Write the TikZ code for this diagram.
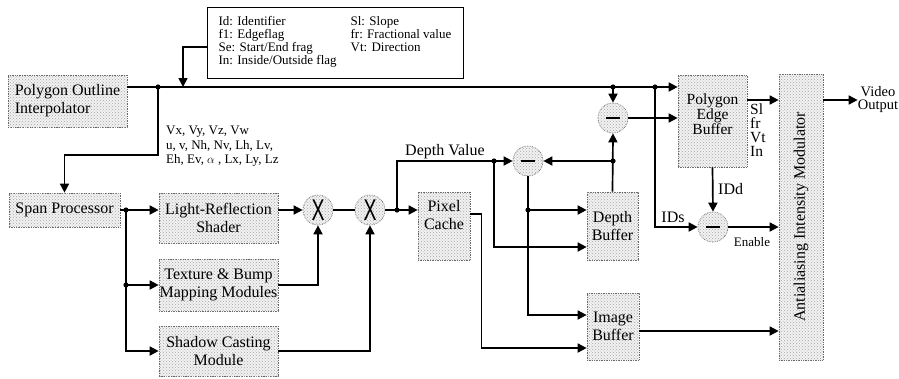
\documentclass[tikz,border=0pt]{standalone}
\usepackage{fontspec}
\setmainfont{Liberation Serif}
\newfontfamily\opfont{Liberation Sans}
\usepackage{graphicx}
\usepackage{tikz}
\usetikzlibrary{arrows.meta,positioning,calc,patterns}
\newcommand\blkfont{\fontsize{16}{18}\selectfont}
\newcommand\pebfont{\fontsize{15.5}{14}\selectfont}
\newcommand\lblfont{\fontsize{13}{14.5}\selectfont}
\newcommand\legfont{\fontsize{13}{13}\selectfont}
\newcommand\mulmark{{\opfont\fontsize{30}{30}\selectfont\scalebox{0.65}[1]{X}}}
\newcommand\submark{\rule{14pt}{2pt}}
\tikzset{
  blk/.style={rectangle, draw=black!60, densely dotted, line width=0.7pt, fill=black!5,
              postaction={pattern=crosshatch dots, pattern color=black!35},
              align=center, font=\blkfont, inner sep=0pt},
  op/.style={circle, draw=black!60, densely dotted, line width=0.7pt, fill=black!5,
             postaction={pattern=crosshatch dots, pattern color=black!35},
             minimum size=30pt, inner sep=0pt},
  arr/.style={-{Triangle[length=9pt,width=9pt]}, line width=1.7pt},
  wire/.style={line width=1.7pt},
  txt/.style={align=center, font=\blkfont},
  lbl/.style={align=left, font=\lblfont, inner sep=0pt},
}

\begin{document}
\begin{tikzpicture}[x=1pt, y=-1pt]
\useasboundingbox (0,0) rectangle (899,378);
\node[blk, minimum width=119pt, minimum height=52pt, align=left] (poi) at (67.5,101) {Polygon Outline\\Interpolator};
\node[rectangle, draw, line width=0.9pt, minimum width=256pt, minimum height=71pt, font=\legfont, inner sep=0pt] (legend) at (335,42.5) {\begin{tabular}{@{}p{132pt}@{}l@{}}Id: Identifier & Sl: Slope\\ f1: Edgeflag & fr: Fractional value\\ Se: Start/End frag & Vt: Direction\\ In: Inside/Outside flag & \end{tabular}};
\node[blk, minimum width=111pt, minimum height=34pt] (span) at (64.5,210) {Span Processor};
\node[blk, minimum width=119pt, minimum height=50pt] (light) at (218.5,218) {Light-Reflection\\Shader};
\node[blk, minimum width=119pt, minimum height=52pt] (tex) at (218.5,285) {Texture \& Bump\\Mapping Modules};
\node[blk, minimum width=119pt, minimum height=50pt] (shadow) at (218.5,351) {Shadow Casting\\Module};
\node[op] (mul1) at (318,210) {\mulmark};
\node[op] (mul2) at (370,210) {\mulmark};
\node[blk, minimum width=52pt, minimum height=68pt, label={[txt, yshift=11pt]center:{Pixel\\Cache}}] (cache) at (444,226) {};
\node[blk, minimum width=51pt, minimum height=68pt] (dbuf) at (612.5,226) {Depth\\Buffer};
\node[blk, minimum width=52pt, minimum height=67pt] (ibuf) at (613,326.5) {Image\\Buffer};
\node[blk, minimum width=69pt, minimum height=92pt, label={[txt, yshift=7pt, font=\pebfont]center:{Polygon\\Edge\\Buffer}}] (peb) at (712.5,121) {};
\node[blk, minimum width=44pt, minimum height=286pt, label={[rotate=90, font=\blkfont]center:Antialiasing Intensity Modulator}] (aim) at (801,217) {};
\node[op] (sub1) at (528,161) {\submark};
\node[op] (sub2) at (613,118) {\submark};
\node[op] (sub3) at (713,227) {\submark};

\node[lbl, anchor=north west] (vlist) at (166,126) {Vx, Vy, Vz, Vw\\u, v, Nh, Nv, Lh, Lv,\\Eh, Ev, $\alpha$ , Lx, Ly, Lz};
\node[font=\blkfont, inner sep=0pt] (dval) at (445,152) {Depth Value};
\node[font=\pebfont, align=left, anchor=north west, inner sep=0pt] (slist) at (750,104) {Sl\\fr\\Vt\\In};
\node[font=\blkfont, anchor=west, inner sep=0pt] (idd) at (718,189) {IDd};
\node[font=\blkfont, inner sep=0pt] (ids) at (673,217) {IDs};
\node[font=\lblfont, inner sep=0pt] (enab) at (752,242) {Enable};
\node[font=\fontsize{14.5}{13}\selectfont, align=center, inner sep=0pt] (vout) at (878,100) {Video\\Output};

\coordinate (tap) at (183,87);
\coordinate (d1) at (158,87);
\coordinate (d2) at (613,87);
\coordinate (d3) at (655,87);
\coordinate (d4) at (126,210);
\coordinate (d5) at (126,285);
\coordinate (d6) at (397,210);
\coordinate (d7) at (494,161);
\coordinate (d8) at (528,210);
\coordinate (d9) at (613,161);
\coordinate (ibo) at ([yshift=-4.5pt]ibuf.east);
\coordinate (pebo) at ([yshift=21pt]peb.east);

\draw[arr] (poi.east |- d1) -- (peb.west |- d1);
\draw[arr] ([yshift=-4.5pt]legend.west) -| (tap);
\draw[arr] (d1) -- ++(0,68) -| (span.north);
\draw[arr] (span.east) -- (span.east -| light.west);
\draw[arr] (d4) |- (shadow.west);
\draw[arr] (d5) -- (tex.west);
\draw[arr] (light.east |- mul1) -- (mul1.west);
\draw[wire] (mul1.east) -- (mul2.west);
\draw[arr] (tex.east) -| (mul1.south);
\draw[arr] (shadow.east) -| (mul2.south);
\draw[arr] (mul2.east) -- (mul2.east -| cache.west);
\draw[arr] (d6) |- (sub1.west);
\draw[arr] (d7) |- ([yshift=-21pt]dbuf.west);
\draw[arr] (sub1.south) |- ([yshift=11.5pt]ibuf.west);
\draw[arr] (d8) -- ([yshift=16pt]dbuf.west);
\draw[arr] ([yshift=12pt]cache.east) -- ++(11,0) |- ([yshift=-21.5pt]ibuf.west);
\draw[arr] (ibo) -- (ibo -| aim.west);
\draw[arr] (dbuf.north) -- (sub2.south);
\draw[arr] (d9) -- (sub1.east);
\draw[arr] (d2) -- (sub2.north);
\draw[arr] (sub2.east) -- (sub2.east -| peb.west);
\draw[arr] (d3) |- (sub3.west);
\draw[arr] (peb.south) -- (sub3.north);
\draw[arr] (sub3.east) -- (sub3.east -| aim.west);
\draw[arr] (pebo) -- (pebo -| aim.west);
\draw[arr] (aim.east |- vout.west) -- (vout.west);
\foreach \p in {d1,d2,d3,d4,d5,d6,d7,d8,d9} \fill (\p) circle (2.6pt);
\end{tikzpicture}
\end{document}
